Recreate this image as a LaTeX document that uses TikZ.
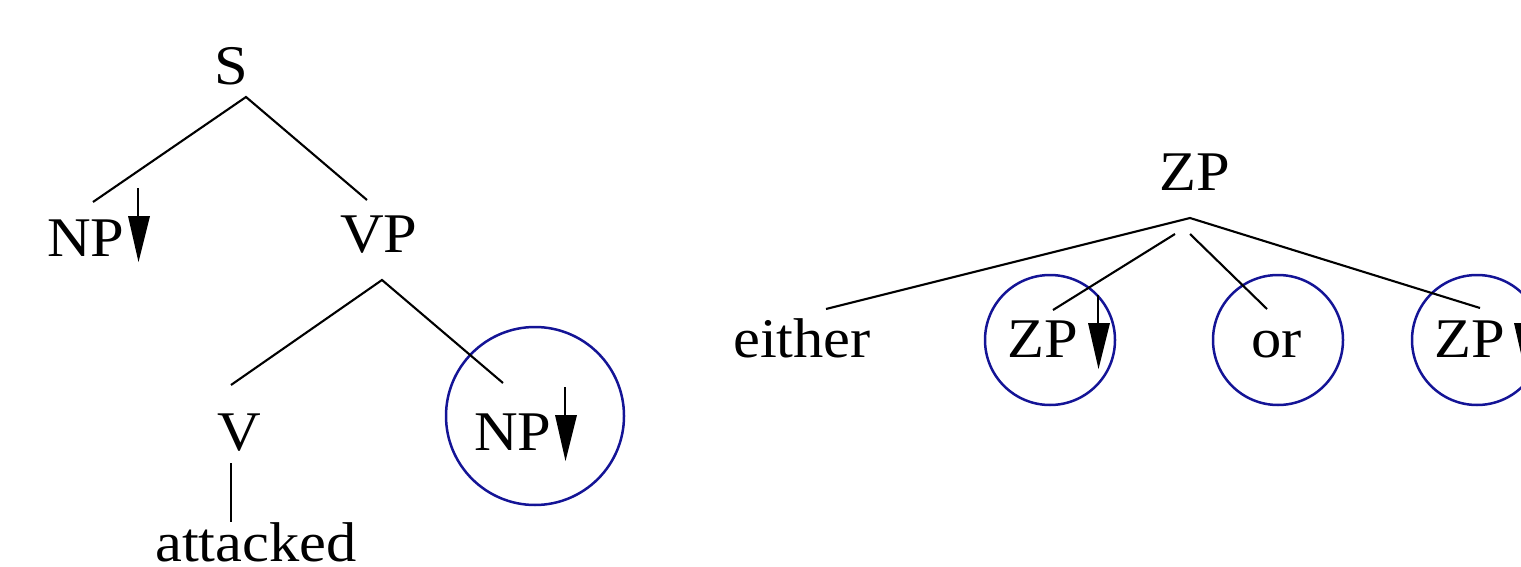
\documentclass[tikz,border=0pt]{standalone}
\usepackage{fontspec}
\setmainfont[FakeStretch=1.08]{Liberation Serif}
\definecolor{ringblue}{RGB}{20,20,150}
\begin{document}
\begin{tikzpicture}[x=1pt,y=-1pt,
  lbl/.style={anchor=base west,inner sep=0pt,font=\fontsize{56}{60}\selectfont},
  edge/.style={line width=2.1pt},
  ring/.style={circle,draw=ringblue,line width=2.5pt,inner sep=0pt},
  pics/subst/.style={code={
    \draw[line width=2.2pt] (0,0) -- (0,30);
    \fill (-10,28) -- (12,28) -- (0.5,74) -- cycle;}}]
\useasboundingbox (0,0) rectangle (1521,567);
\clip (0,0) rectangle (1521,567);

% left tree: S -> NP VP, VP -> V NP, V -> attacked
\node[lbl] (S) at (214,85) {S};
\node[lbl] (np1) at (47,256) {NP};
\node[lbl] (vp) at (340,252) {VP};
\node[lbl] (v) at (217,450) {V};
\node[lbl] (att) at (155,561) {attacked};
\node[ring,minimum size=178pt] (c1) at (535,416) {};
\node[lbl] (np2) at (474,450) {NP};
\pic at (138,188) {subst};
\pic at (565,387) {subst};

\coordinate (S-b) at (246,97);
\coordinate (np1-t) at (93,202);
\coordinate (vp-t) at (367,200);
\coordinate (vp-b) at (382,280);
\coordinate (v-t) at (231,385);
\coordinate (np2-t) at (503,383);
\coordinate (v-b) at (231,463);
\coordinate (att-t) at (231,522);
\draw[edge] (np1-t) -- (S-b) -- (vp-t);
\draw[edge] (v-t) -- (vp-b) -- (np2-t);
\draw[edge] (v-b) -- (att-t);

% right tree: ZP -> either ZP or ZP
\node[lbl] (zp) at (1159,190) {ZP};
\node[lbl] (either) at (733,357) {either};
\node[ring,minimum size=130pt] (c2) at (1050,340) {};
\node[ring,minimum size=130pt] (c3) at (1278,340) {};
\node[ring,minimum size=130pt] (c4) at (1477,340) {};
\node[lbl] (zp1) at (1007,357) {ZP};
\node[lbl] (or) at (1251,357) {or};
\node[lbl] (zp2) at (1434,357) {ZP};
\pic at (1098,295) {subst};
\pic at (1524,295) {subst};

\coordinate (zp-b) at (1190,218);
\coordinate (zp-bl) at (1175,234);
\coordinate (zp-br) at (1190,234);
\coordinate (either-t) at (826,309);
\coordinate (zp1-t) at (1053,310);
\coordinate (or-t) at (1267,309);
\coordinate (zp2-t) at (1480,308);
\draw[edge] (either-t) -- (zp-b) -- (zp2-t);
\draw[edge] (zp-bl) -- (zp1-t);
\draw[edge] (zp-br) -- (or-t);
\end{tikzpicture}
\end{document}
